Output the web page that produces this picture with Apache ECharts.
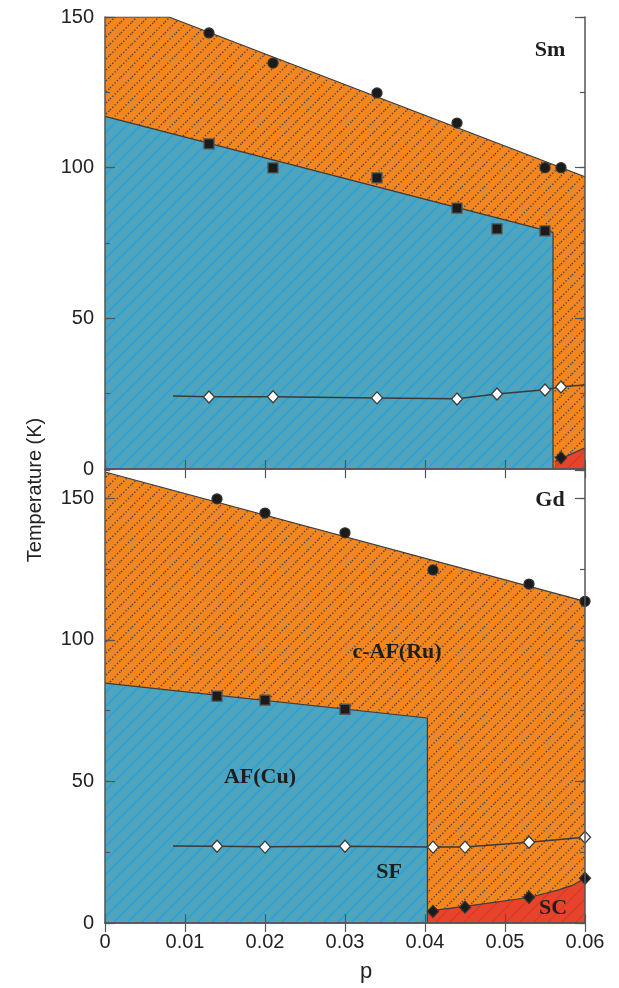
<!DOCTYPE html>
<html lang="en">
<head>
    <meta charset="UTF-8">
    <title>Sm / Gd phase diagram</title>
    <script src="https://cdn.jsdelivr.net/npm/echarts@6/dist/echarts.min.js"></script>
    <style>
        body { margin: 0; background: #fff; }
    </style>
</head>
<body>
<div id="main" style="width:619px; height:988px"></div>
<script type="text/javascript">
    // x axis ticks (p) and y ticks
    var pTicks = [0, 0.01, 0.02, 0.03, 0.04, 0.05, 0.06];
    var smYMax = 150, gdYMax = 160;

    // ---- Sm panel (top) ----
    var smCircleP = [0.013, 0.021, 0.034, 0.044, 0.055, 0.057];
    var smCircleT = [144.7, 134.7, 124.8, 114.8, 100, 100];
    var smSquareP = [0.013, 0.021, 0.034, 0.044, 0.049, 0.055];
    var smSquareT = [107.9, 99.9, 96.6, 86.6, 79.7, 79.0];
    var smOpenP = [0.013, 0.021, 0.034, 0.044, 0.049, 0.055, 0.057];
    var smOpenT = [23.9, 24.0, 23.6, 23.2, 24.9, 26.2, 27.2];
    var smScP = [0.057];
    var smScT = [3.7];
    // region borders
    var smOrangeEdge = [[0, 150], [0.008, 150], [0.06, 97]];
    var smBlueEdge = [[0, 117], [0.056, 78.5], [0.056, 0]];
    var smRedEdge = [[0.0562, 2.5], [0.06, 7]];
    var smOpenLine = [[0.0085, 24.2], [0.013, 24.0], [0.021, 24.0], [0.034, 23.6], [0.044, 23.3],
                      [0.049, 24.9], [0.055, 26.3], [0.057, 27.3], [0.06, 27.9]];

    // ---- Gd panel (bottom) ----
    var gdCircleP = [0.014, 0.020, 0.030, 0.041, 0.053, 0.060];
    var gdCircleT = [149.8, 144.8, 137.8, 124.7, 119.7, 113.6];
    var gdSquareP = [0.014, 0.020, 0.030];
    var gdSquareT = [80.1, 78.7, 75.5];
    var gdOpenP = [0.014, 0.020, 0.030, 0.041, 0.045, 0.053, 0.060];
    var gdOpenT = [27.1, 26.8, 27.1, 26.8, 26.8, 28.5, 30.3];
    var gdScP = [0.041, 0.045, 0.053, 0.060];
    var gdScT = [4.1, 5.6, 9.1, 15.8];
    var gdOrangeEdge = [[0, 159.3], [0.06, 113.6]];
    var gdBlueEdge = [[0, 84.7], [0.0403, 72.4], [0.0403, 0]];
    var gdRedEdge = [[0.0403, 4.2], [0.045, 5.9], [0.053, 9.0], [0.0565, 11.5], [0.0585, 13.4], [0.06, 15.8]];
    var gdOpenLine = [[0.0085, 27.2], [0.014, 27.1], [0.020, 26.9], [0.030, 27.1], [0.041, 26.8],
                      [0.045, 26.8], [0.053, 28.5], [0.060, 30.3]];

    function pairs(xs, ys) {
        return xs.map(function (x, i) { return [x, ys[i]]; });
    }

    // diagonal "/" hatch tile
    function hatch(bg, line, gap, width, dash) {
        var c = document.createElement('canvas');
        c.width = gap; c.height = gap;
        var ctx = c.getContext('2d');
        ctx.fillStyle = bg;
        ctx.fillRect(0, 0, gap, gap);
        ctx.strokeStyle = line;
        ctx.lineWidth = width;
        if (dash) ctx.setLineDash(dash);
        ctx.beginPath();
        ctx.moveTo(0, gap); ctx.lineTo(gap, 0);
        ctx.moveTo(-gap / 2, gap / 2); ctx.lineTo(gap / 2, -gap / 2);
        ctx.moveTo(gap / 2, gap * 1.5); ctx.lineTo(gap * 1.5, gap / 2);
        ctx.stroke();
        return { image: c, repeat: 'repeat' };
    }

    var orangeFill = hatch('#f4861f', '#4a4440', 11, 1.4, [1.3, 2]);
    var blueFill = hatch('#50a5bd', '#2aa2dc', 14, 1.8);
    var redFill = hatch('#e8432b', '#d23a29', 14, 1.2);

    var axisColor = '#555';
    var labelFont = { fontSize: 20, color: '#222', fontFamily: 'Liberation Sans, Arial, sans-serif' };

    function xAx(grid, pos, showLabel) {
        return {
            type: 'value', gridIndex: grid, position: pos, min: 0, max: 0.06, interval: 0.01, z: 10,
            axisLine: { show: true, lineStyle: { color: axisColor, width: 1.5 } },
            axisTick: { show: true, inside: true, length: 9, lineStyle: { color: axisColor, width: 1.2 } },
            axisLabel: Object.assign({ show: showLabel, margin: 9,
                formatter: function (v) { return v === 0 ? '0' : v.toFixed(2); } }, labelFont),
            splitLine: { show: false }
        };
    }

    function yAx(grid, pos, max, step, tickLen, showLabel, showLine) {
        return {
            type: 'value', gridIndex: grid, position: pos, min: 0, max: max, interval: step, z: 10,
            axisLine: { show: showLine, lineStyle: { color: axisColor, width: 1.5 } },
            axisTick: { show: true, inside: true, length: tickLen, lineStyle: { color: axisColor, width: 1.2 } },
            axisLabel: Object.assign({ show: showLabel, margin: 11, showMaxLabel: max % 50 === 0 }, labelFont),
            splitLine: { show: false }
        };
    }

    function area(xi, yi, data, fill) {
        return {
            type: 'line', xAxisIndex: xi, yAxisIndex: yi, data: data, showSymbol: false, silent: true,
            lineStyle: { color: '#3c3c3c', width: 1.2 }, areaStyle: { color: fill, opacity: 1 }
        };
    }

    function curve(xi, yi, data) {
        return {
            type: 'line', xAxisIndex: xi, yAxisIndex: yi, data: data, showSymbol: false, silent: true,
            lineStyle: { color: '#3a3a3a', width: 1.5 }
        };
    }

    function dots(xi, yi, data, symbol, size, fill, border) {
        return {
            type: 'scatter', xAxisIndex: xi, yAxisIndex: yi, data: data, symbol: symbol, symbolSize: size,
            clip: false, z: 5,
            itemStyle: { color: fill, borderColor: border, borderWidth: 1.3, opacity: 1 }
        };
    }

    var boldSerif = 'bold 22px "Liberation Serif", "Times New Roman", serif';
    function tag(text, x, y) {
        return { type: 'text', x: x, y: y, z: 20,
            style: { text: text, font: boldSerif, fill: '#1e1e1e', align: 'center', verticalAlign: 'middle' } };
    }

    var myChart = echarts.init(document.getElementById('main'));
    myChart.setOption({
        animation: false,
        backgroundColor: '#fff',
        grid: [
            { left: 105, top: 17, width: 480, height: 452 },
            { left: 105, top: 470, width: 480, height: 453 }
        ],
        xAxis: [
            xAx(0, 'bottom', false), xAx(0, 'top', false),
            xAx(1, 'bottom', true), xAx(1, 'top', false)
        ],
        yAxis: [
            yAx(0, 'left', smYMax, 50, 10, true, true),
            yAx(0, 'left', smYMax, 25, 5, false, false),
            yAx(0, 'right', smYMax, 50, 10, false, true),
            yAx(0, 'right', smYMax, 25, 5, false, false),
            yAx(1, 'left', gdYMax, 50, 10, true, true),
            yAx(1, 'left', gdYMax, 25, 5, false, false),
            yAx(1, 'right', gdYMax, 50, 10, false, true),
            yAx(1, 'right', gdYMax, 25, 5, false, false)
        ],
        series: [
            area(0, 0, smOrangeEdge, orangeFill),
            area(0, 0, smBlueEdge, blueFill),
            area(0, 0, smRedEdge, redFill),
            curve(0, 0, smOpenLine),
            dots(0, 0, pairs(smCircleP, smCircleT), 'circle', 10, '#1b1b1b', '#333'),
            dots(0, 0, pairs(smSquareP, smSquareT), 'rect', 10, '#1b1b1b', '#555'),
            dots(0, 0, pairs(smOpenP, smOpenT), 'diamond', [11, 12], '#fff', '#3a3a3a'),
            dots(0, 0, pairs(smScP, smScT), 'diamond', [11, 12], '#1b1b1b', '#333'),

            area(2, 4, gdOrangeEdge, orangeFill),
            area(2, 4, gdBlueEdge, blueFill),
            area(2, 4, gdRedEdge, redFill),
            curve(2, 4, gdOpenLine),
            dots(2, 4, pairs(gdCircleP, gdCircleT), 'circle', 10, '#1b1b1b', '#333'),
            dots(2, 4, pairs(gdSquareP, gdSquareT), 'rect', 10, '#1b1b1b', '#555'),
            dots(2, 4, pairs(gdOpenP, gdOpenT), 'diamond', [11, 12], '#fff', '#3a3a3a'),
            dots(2, 4, pairs(gdScP, gdScT), 'diamond', [11, 12], '#1b1b1b', '#333')
        ],
        graphic: [
            tag('Sm', 550, 50),
            tag('Gd', 550, 500),
            tag('c-AF(Ru)', 397, 652),
            tag('AF(Cu)', 260, 777),
            tag('SF', 389, 872),
            tag('SC', 553, 908),
            { type: 'text', x: 35, y: 490, rotation: Math.PI / 2, z: 20,
              style: { text: 'Temperature (K)', font: '20px "Liberation Sans", Arial, sans-serif',
                       fill: '#222', align: 'center', verticalAlign: 'middle' } },
            { type: 'text', x: 366, y: 972, z: 20,
              style: { text: 'p', font: '22px "Liberation Sans", Arial, sans-serif',
                       fill: '#222', align: 'center', verticalAlign: 'middle' } }
        ]
    });
</script>
</body>
</html>
